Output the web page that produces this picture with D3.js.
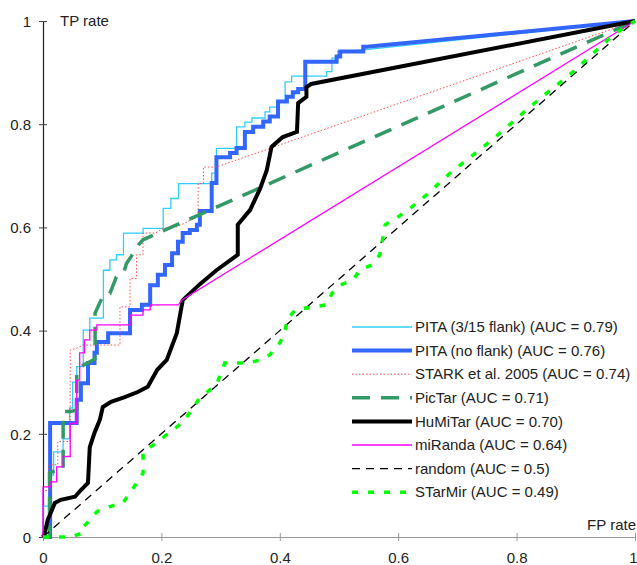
<!DOCTYPE html>
<html>
<head>
<meta charset="utf-8">
<script src="https://cdn.jsdelivr.net/npm/d3@7"></script>
<style>
  body { margin: 0; background: #fff; }
  svg text { font-family: "Liberation Sans", Arial, sans-serif; font-size: 15px; fill: #222; }
</style>
</head>
<body>
<div id="chart"></div>
<script>
// ROC curves, [FP rate, TP rate] corners
const pitaFlank = [[0,0],[0,0.06],[0.012,0.06],[0.012,0.12],[0.018,0.12],[0.018,0.165],[0.034,0.165],[0.034,0.19],[0.045,0.19],[0.045,0.25],[0.05,0.25],[0.05,0.30],[0.057,0.30],[0.057,0.33],[0.068,0.33],[0.068,0.401],[0.079,0.401],[0.079,0.424],[0.102,0.424],[0.102,0.517],[0.113,0.517],[0.113,0.537],[0.124,0.537],[0.124,0.547],[0.136,0.547],[0.136,0.589],[0.169,0.589],[0.169,0.598],[0.203,0.598],[0.203,0.637],[0.216,0.637],[0.216,0.656],[0.229,0.656],[0.229,0.685],[0.285,0.685],[0.285,0.705],[0.293,0.705],[0.293,0.753],[0.327,0.753],[0.327,0.795],[0.341,0.795],[0.341,0.804],[0.353,0.804],[0.353,0.812],[0.375,0.812],[0.375,0.824],[0.383,0.824],[0.383,0.833],[0.395,0.833],[0.395,0.843],[0.409,0.843],[0.409,0.882],[0.420,0.882],[0.420,0.893],[0.479,0.893],[0.479,0.902],[0.488,0.902],[0.488,0.928],[0.498,0.928],[0.498,0.941],[0.541,0.944],[1,1]];
const pitaNoFlank = [[0,0],[0.012,0],[0.012,0.221],[0.057,0.221],[0.057,0.266],[0.064,0.266],[0.064,0.298],[0.076,0.298],[0.076,0.337],[0.087,0.337],[0.087,0.357],[0.091,0.357],[0.091,0.378],[0.110,0.378],[0.110,0.395],[0.147,0.395],[0.147,0.440],[0.167,0.440],[0.167,0.450],[0.181,0.450],[0.181,0.488],[0.194,0.488],[0.194,0.508],[0.206,0.508],[0.206,0.527],[0.218,0.527],[0.218,0.550],[0.228,0.550],[0.228,0.572],[0.236,0.572],[0.236,0.589],[0.248,0.589],[0.248,0.595],[0.260,0.595],[0.260,0.605],[0.265,0.605],[0.265,0.632],[0.285,0.632],[0.285,0.686],[0.293,0.686],[0.293,0.736],[0.316,0.736],[0.316,0.744],[0.327,0.744],[0.327,0.754],[0.341,0.754],[0.341,0.785],[0.355,0.785],[0.355,0.795],[0.372,0.795],[0.372,0.805],[0.383,0.805],[0.383,0.815],[0.397,0.815],[0.397,0.844],[0.412,0.844],[0.412,0.853],[0.422,0.853],[0.422,0.862],[0.431,0.862],[0.431,0.868],[0.443,0.868],[0.443,0.921],[0.496,0.921],[0.496,0.931],[0.502,0.931],[0.502,0.941],[0.541,0.941],[0.541,0.950],[0.547,0.950],[1,1]];
const stark = [[0,0],[0,0.09],[0.01,0.09],[0.01,0.14],[0.025,0.14],[0.025,0.185],[0.046,0.185],[0.046,0.362],[0.057,0.366],[0.068,0.372],[0.13,0.372],[0.13,0.446],[0.147,0.446],[0.147,0.501],[0.158,0.501],[0.158,0.547],[0.169,0.547],[0.169,0.589],[0.19,0.589],[0.203,0.598],[0.226,0.601],[0.262,0.621],[0.262,0.685],[0.271,0.685],[0.271,0.717],[0.293,0.717],[1,1]];
const picTar = [[0,0],[0.011,0],[0.011,0.124],[0.023,0.13],[0.034,0.13],[0.034,0.243],[0.046,0.243],[0.057,0.246],[0.057,0.32],[0.068,0.333],[0.088,0.345],[0.088,0.434],[0.102,0.469],[0.113,0.472],[0.124,0.504],[0.136,0.511],[0.141,0.530],[0.147,0.540],[0.161,0.566],[0.169,0.576],[1,1]];
const huMiTar = [[0,0],[0.003,0.008],[0.008,0.033],[0.020,0.066],[0.030,0.072],[0.054,0.078],[0.064,0.091],[0.076,0.105],[0.079,0.174],[0.087,0.202],[0.096,0.227],[0.101,0.252],[0.115,0.262],[0.138,0.271],[0.160,0.281],[0.177,0.291],[0.193,0.324],[0.209,0.343],[0.226,0.395],[0.236,0.459],[0.265,0.490],[0.293,0.517],[0.329,0.547],[0.329,0.605],[0.350,0.634],[0.367,0.676],[0.378,0.711],[0.386,0.756],[0.405,0.775],[0.429,0.785],[0.431,0.841],[0.445,0.853],[0.445,0.872],[0.453,0.878],[1,1]];
const miRanda = [[0,0],[0,0.097],[0.012,0.097],[0.012,0.107],[0.023,0.107],[0.023,0.136],[0.034,0.136],[0.034,0.156],[0.046,0.156],[0.046,0.220],[0.057,0.220],[0.057,0.304],[0.062,0.304],[0.062,0.357],[0.070,0.357],[0.070,0.382],[0.079,0.382],[0.079,0.401],[0.091,0.401],[0.091,0.411],[0.147,0.411],[0.147,0.430],[0.169,0.430],[0.169,0.440],[0.181,0.440],[0.181,0.450],[0.229,0.450],[0.234,0.459],[1,1]];
const random = [[0,0],[1,1]];
const starMir = [[0,0],[0.046,0],[0.068,0.008],[0.068,0.019],[0.079,0.033],[0.091,0.049],[0.113,0.059],[0.135,0.066],[0.158,0.104],[0.169,0.124],[0.169,0.165],[0.186,0.178],[0.237,0.223],[0.251,0.246],[0.265,0.27],[0.293,0.295],[0.307,0.337],[0.344,0.337],[0.367,0.343],[0.383,0.353],[0.400,0.376],[0.409,0.398],[0.412,0.421],[0.426,0.440],[0.479,0.450],[0.488,0.472],[0.502,0.488],[0.524,0.498],[0.535,0.517],[0.555,0.527],[0.569,0.547],[0.578,0.605],[0.597,0.618],[0.620,0.637],[0.648,0.663],[0.6875,0.705],[0.758,0.769],[0.823,0.834],[0.896,0.902],[0.963,0.973],[1,1]];

const seriesNames = [
  'PITA (3/15 flank) (AUC = 0.79)',
  'PITA (no flank) (AUC = 0.76)',
  'STARK et al. 2005 (AUC = 0.74)',
  'PicTar (AUC = 0.71)',
  'HuMiTar (AUC = 0.70)',
  'miRanda (AUC = 0.64)',
  'random (AUC = 0.5)',
  'STarMir (AUC = 0.49)',
];
const seriesValues = [pitaFlank, pitaNoFlank, stark, picTar, huMiTar, miRanda, random, starMir];
const tickValues = [0, 0.2, 0.4, 0.6, 0.8, 1];

const styles = [
  { color: '#33ccff', width: 1.3, dash: null },
  { color: '#3366ff', width: 4, dash: null },
  { color: '#ff4d4d', width: 1, dash: '1.5,2' },
  { color: '#339966', width: 3.5, dash: '18,11' },
  { color: '#000000', width: 4, dash: null },
  { color: '#ff00ff', width: 1.3, dash: null },
  { color: '#000000', width: 1.3, dash: '8,6' },
  { color: '#00ff00', width: 3.5, dash: '6,10' },
];

const width = 637;
const height = 565;
const margin = { top: 21, right: 2, bottom: 28, left: 43 };

const svg = d3.select('#chart')
  .append('svg')
  .attr('width', width)
  .attr('height', height);

const x = d3.scaleLinear().domain([0, 1]).range([margin.left, width - margin.right]);
const y = d3.scaleLinear().domain([0, 1]).range([height - margin.bottom, margin.top]);

// x axis (grey)
const xAxis = svg.append('g')
  .attr('transform', `translate(0,${y(0)})`)
  .call(d3.axisBottom(x).tickValues(tickValues).tickFormat(d3.format('~g')).tickSizeOuter(0));
xAxis.select('.domain').attr('stroke', '#999').attr('stroke-width', 1.2);
xAxis.selectAll('.tick line').attr('stroke', '#999').attr('y1', -4).attr('y2', 4);
xAxis.selectAll('.tick text').attr('y', 21).attr('dy', '0.35em').style('font-size', '15px');
xAxis.attr('font-family', null).attr('font-size', null);
// last label sits on the right edge, keep it inside the picture
xAxis.selectAll('.tick text').filter((d) => d === 1).attr('text-anchor', 'end').attr('x', 2);

// y axis
const yAxis = svg.append('g')
  .attr('transform', `translate(${x(0)},0)`)
  .call(d3.axisLeft(y).tickValues(tickValues).tickFormat(d3.format('~g')).tickSizeOuter(0));
yAxis.select('.domain').attr('stroke', '#222').attr('stroke-width', 1.2);
yAxis.selectAll('.tick line').attr('stroke', '#444').attr('x1', -4).attr('x2', 4);
yAxis.selectAll('.tick text').attr('x', -12).attr('dy', '0.35em').style('font-size', '15px');
yAxis.attr('font-family', null).attr('font-size', null);

svg.append('text').attr('x', 60).attr('y', 26).text('TP rate');
svg.append('text').attr('x', 636).attr('y', 530).attr('text-anchor', 'end').text('FP rate');

const line = d3.line().x((d) => x(d[0])).y((d) => y(d[1]));

// draw in legend order, later series on top
const curves = svg.append('g').attr('fill', 'none');
seriesValues.forEach((vals, i) => {
  const s = styles[i];
  curves.append('path')
    .datum(vals)
    .attr('d', line)
    .attr('stroke', s.color)
    .attr('stroke-width', s.width)
    .attr('stroke-linejoin', 'miter')
    .attr('stroke-dasharray', s.dash);
});

// legend
const legend = svg.append('g');
seriesNames.forEach((name, i) => {
  const s = styles[i];
  const ly = 327 + i * 23.6;
  legend.append('line')
    .attr('x1', 352).attr('x2', 412)
    .attr('y1', ly).attr('y2', ly)
    .attr('stroke', s.color)
    .attr('stroke-width', s.width)
    .attr('stroke-dasharray', s.dash);
  legend.append('text')
    .attr('x', 415)
    .attr('y', ly)
    .attr('dy', '0.35em')
    .text(name);
});
</script>
</body>
</html>
